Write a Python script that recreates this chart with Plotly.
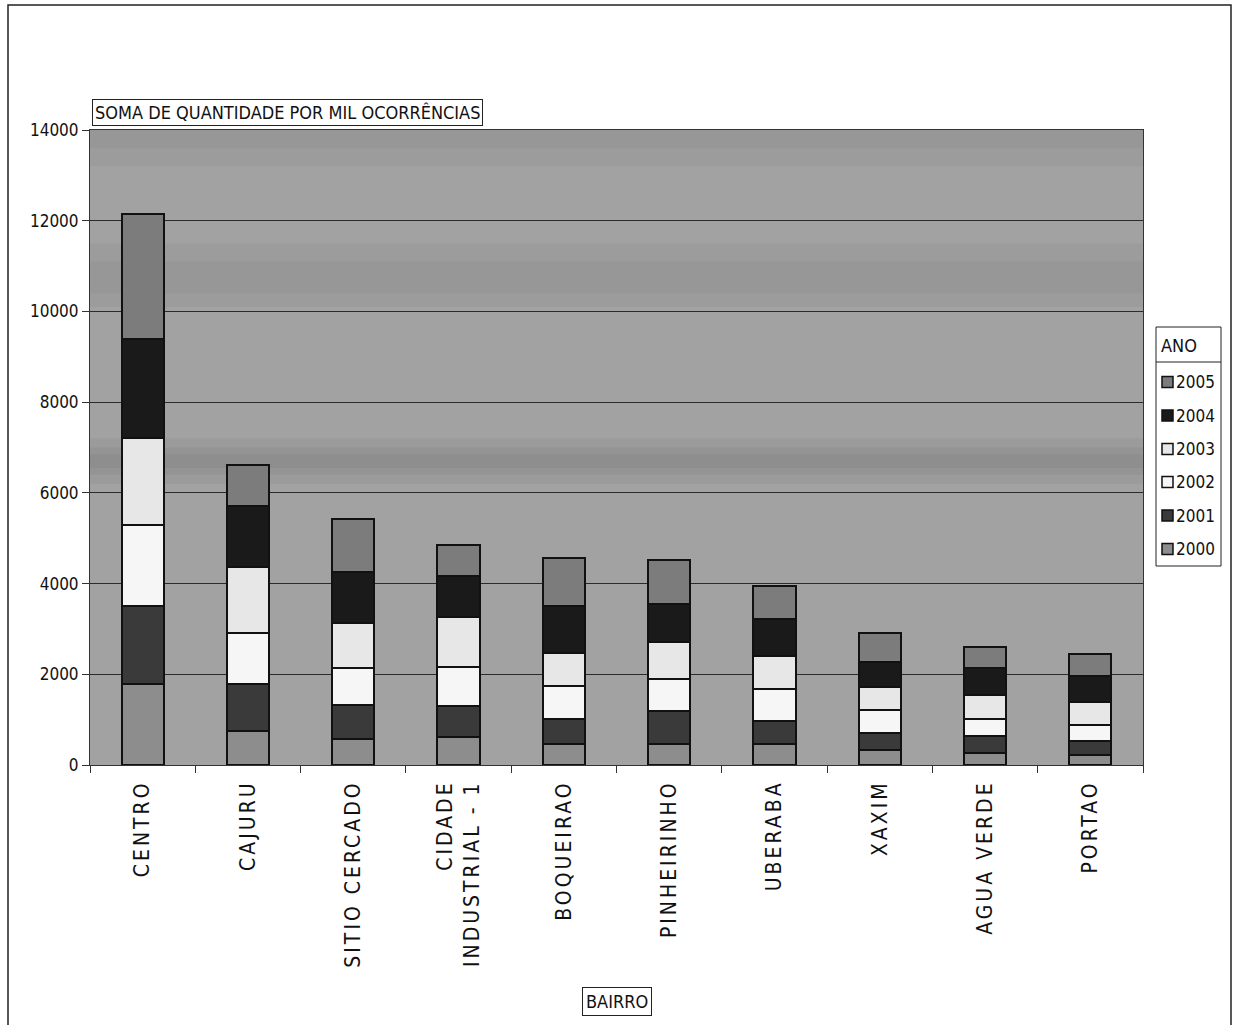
import plotly.graph_objects as go

# Bairros (ordered by total) and yearly counts per thousand occurrences
bairros = ["CENTRO", "CAJURU", "SITIO CERCADO", "CIDADE<br>INDUSTRIAL - 1", "BOQUEIRAO",
           "PINHEIRINHO", "UBERABA", "XAXIM", "AGUA VERDE", "PORTAO"]
anos = ["2000", "2001", "2002", "2003", "2004", "2005"]

v2000 = [1790, 750, 570, 610, 460, 470, 460, 320, 260, 220]
v2001 = [1710, 1030, 750, 690, 550, 710, 520, 380, 370, 320]
v2002 = [1790, 1130, 820, 850, 730, 720, 690, 510, 380, 350]
v2003 = [1910, 1450, 1000, 1110, 740, 820, 730, 510, 530, 510]
v2004 = [2200, 1340, 1110, 900, 1030, 840, 830, 540, 600, 560]
v2005 = [2750, 910, 1180, 700, 1060, 950, 720, 660, 460, 490]

y_ticks = [0, 2000, 4000, 6000, 8000, 10000, 12000, 14000]

series = [v2000, v2001, v2002, v2003, v2004, v2005]
cores = ["#8d8d8d", "#3a3a3a", "#f6f6f6", "#e7e7e7", "#1a1a1a", "#7c7c7c"]

narrow = ("Liberation Sans Narrow, Arial Narrow, DejaVu Sans Condensed, "
          "Roboto Condensed, Liberation Sans, Arial, sans-serif")

W, H = 1238, 1025
ML, MR, MT, MB = 90, 95, 130, 260
PW, PH = W - ML - MR, H - MT - MB


def px(x):
    """page x (pixels) -> paper x"""
    return (x - ML) / PW


def py(y):
    """page y (pixels, from top) -> paper y"""
    return (H - MB - y) / PH


fig = go.Figure()
for ano, vals, cor in zip(anos, series, cores):
    fig.add_trace(go.Bar(
        x=bairros, y=vals, name=ano,
        marker=dict(color=cor, line=dict(color="#111111", width=2)),
        hovertemplate="%{x}<br>" + ano + ": %{y}<extra></extra>",
    ))

# soft horizontal shading in the plot background
bands = [(13200, 14000, 0.035), (13600, 14000, 0.03),
         (10100, 11500, 0.03), (10400, 11100, 0.03),
         (6200, 7200, 0.045), (6400, 7000, 0.045), (6550, 6850, 0.04)]
shapes = []
for y0, y1, op in bands:
    shapes.append(dict(type="rect", xref="paper", yref="y", x0=0, x1=1, y0=y0, y1=y1,
                       fillcolor="black", opacity=op, line=dict(width=0), layer="below"))

# outer frame of the chart
shapes.append(dict(type="rect", xref="paper", yref="paper",
                   x0=px(8), x1=px(1231), y0=py(1040), y1=py(5),
                   line=dict(color="#222222", width=1.5), fillcolor="rgba(0,0,0,0)"))

annotations = [
    dict(text="SOMA DE QUANTIDADE POR MIL OCORRÊNCIAS", xref="paper", yref="paper",
         x=px(92), y=1.0, xanchor="left", yanchor="bottom", yshift=4, showarrow=False,
         font=dict(family=narrow, size=18, color="#111111"),
         bordercolor="#222222", borderwidth=1, borderpad=2, bgcolor="white"),
    dict(text="BAIRRO", xref="paper", yref="paper",
         x=px(617), y=py(1002), xanchor="center", yanchor="middle", showarrow=False,
         font=dict(family=narrow, size=18, color="#111111"),
         bordercolor="#222222", borderwidth=1, borderpad=3, bgcolor="white"),
]

# legend box "ANO" with the years from newest to oldest
leg_l, leg_r, leg_t, leg_b, leg_sep = 1156, 1221, 327, 566, 362
shapes.append(dict(type="rect", xref="paper", yref="paper",
                   x0=px(leg_l), x1=px(leg_r), y0=py(leg_b), y1=py(leg_t),
                   line=dict(color="#222222", width=1), fillcolor="white"))
shapes.append(dict(type="line", xref="paper", yref="paper",
                   x0=px(leg_l), x1=px(leg_r), y0=py(leg_sep), y1=py(leg_sep),
                   line=dict(color="#222222", width=1)))
annotations.append(dict(text="ANO", xref="paper", yref="paper",
                        x=px(leg_l + 3), y=py(345), xanchor="left", yanchor="middle",
                        showarrow=False, font=dict(family=narrow, size=18, color="#111111")))
row_y = [382, 415.5, 449, 482, 515.5, 549]
for k, (ano, cor) in enumerate(zip(reversed(anos), reversed(cores))):
    yc = row_y[k]
    shapes.append(dict(type="rect", xref="paper", yref="paper",
                       x0=px(1162), x1=px(1173), y0=py(yc + 5.5), y1=py(yc - 5.5),
                       line=dict(color="#111111", width=1.5), fillcolor=cor))
    annotations.append(dict(text=ano, xref="paper", yref="paper",
                            x=px(1174), y=py(yc), xanchor="left", yanchor="middle",
                            showarrow=False,
                            font=dict(family=narrow, size=17, color="#111111")))

fig.update_layout(
    width=W, height=H,
    margin=dict(l=ML, r=MR, t=MT, b=MB, autoexpand=False),
    paper_bgcolor="white",
    plot_bgcolor="#a2a2a2",
    barmode="stack",
    bargap=0.6,
    showlegend=False,
    shapes=shapes,
    annotations=annotations,
    xaxis=dict(
        type="category",
        tickangle=-90,
        tickson="boundaries",
        ticks="outside", ticklen=7, tickcolor="#333333",
        ticklabelstandoff=6,
        showline=True, linecolor="#333333", linewidth=1, mirror=True,
        showgrid=False,
        tickfont=dict(family=narrow, size=21, color="#111111"),
    ),
    yaxis=dict(
        range=[0, 14000],
        tickvals=y_ticks,
        tickformat="d",
        ticks="outside", ticklen=7, tickcolor="#333333",
        showline=True, linecolor="#333333", linewidth=1, mirror=True,
        showgrid=True, gridcolor="#2b2b2b", gridwidth=1,
        zeroline=False,
        tickfont=dict(family=narrow, size=17, color="#111111"),
    ),
)

# widen the spacing of the category labels
spacing_js = ("document.querySelectorAll('.xtick text').forEach(function(t){"
              "t.style.letterSpacing='3px';});")

fig.write_html("out.html", post_script=spacing_js)
